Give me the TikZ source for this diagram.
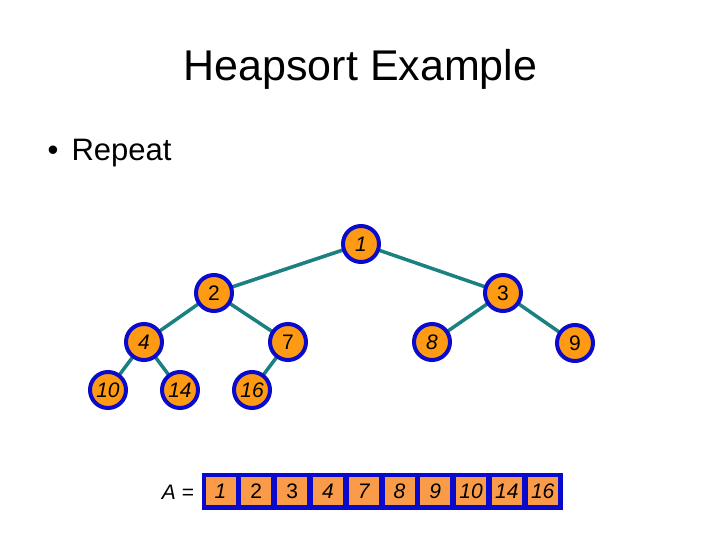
\documentclass[tikz,border=0pt]{standalone}
\usepackage{fontspec}
\setmainfont{Liberation Sans}
\definecolor{treeorange}{HTML}{FF9A14}
\definecolor{cellorange}{HTML}{F99B48}
\definecolor{nodeblue}{HTML}{0A0ACC}
\definecolor{edgeteal}{HTML}{1A8080}
\begin{document}
\begin{tikzpicture}[x=1bp,y=-1bp,
  hnode/.style={circle,draw=nodeblue,fill=treeorange,line width=4bp,minimum size=36bp,inner sep=0pt,
    font=\fontsize{21bp}{24bp}\selectfont},
  edge/.style={draw=edgeteal,line width=3.5bp},
  cell/.style={rectangle,fill=cellorange,minimum width=30bp,minimum height=28bp,inner sep=0pt,
    font=\fontsize{21bp}{24bp}\selectfont}]
\useasboundingbox (0,0) rectangle (720,540);
\node (title) at (360.5,69) {\fontsize{43bp}{48bp}\selectfont Heapsort Example};
\node[anchor=base west,inner sep=0pt] (bullet) at (47.5,161) {\fontsize{31bp}{36bp}\selectfont •\hspace{13bp}Repeat};
\coordinate (c1) at (361,244);
\coordinate (c2) at (214,293);
\coordinate (c3) at (503,293);
\coordinate (c4) at (144,342);
\coordinate (c7) at (288,342);
\coordinate (c8) at (432,342);
\coordinate (c9) at (575,343);
\coordinate (c10) at (108,390);
\coordinate (c14) at (180,390);
\coordinate (c16) at (252,390);
\draw[edge] (c1) -- (c2);
\draw[edge] (c1) -- (c3);
\draw[edge] (c2) -- (c4);
\draw[edge] (c2) -- (c7);
\draw[edge] (c3) -- (c8);
\draw[edge] (c3) -- (c9);
\draw[edge] (c4) -- (c10);
\draw[edge] (c4) -- (c14);
\draw[edge] (c7) -- (c16);
\node[hnode] (n1) at (c1) {\itshape 1};
\node[hnode] (n2) at (c2) {2};
\node[hnode] (n3) at (c3) {3};
\node[hnode] (n4) at (c4) {\itshape 4};
\node[hnode] (n7) at (c7) {7};
\node[hnode] (n8) at (c8) {\itshape 8};
\node[hnode] (n9) at (c9) {9};
\node[hnode] (n10) at (c10) {\itshape 10};
\node[hnode] (n14) at (c14) {\itshape 14};
\node[hnode] (n16) at (c16) {\itshape 16};
\node (alabel) at (178,492) {\fontsize{21bp}{24bp}\selectfont\itshape A\upshape\ =};
\node[rectangle,fill=nodeblue,minimum width=361bp,minimum height=37bp,inner sep=0pt] (arr) at (382,491) {};
\foreach \v/\s [count=\i from 0] in {1/\itshape,2/,3/,4/\itshape,7/\itshape,8/\itshape,9/\itshape,10/\itshape,14/\itshape,16/\itshape}{
  \node[cell] (a\i) at (220.5+35.8*\i,491) {\s\v};
}
\end{tikzpicture}
\end{document}
